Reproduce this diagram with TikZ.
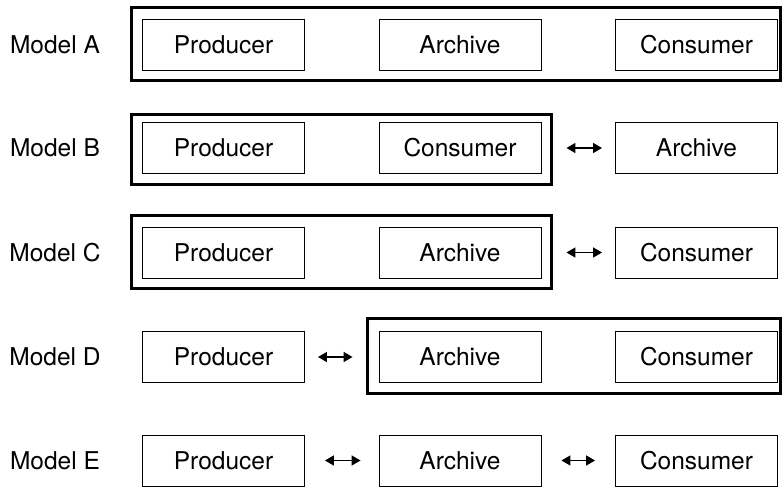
\documentclass[tikz,border=0pt]{standalone}
\usepackage{fontspec}
\setmainfont{TeX Gyre Heros}
\usetikzlibrary{arrows.meta}
\begin{document}
\begin{tikzpicture}[x=1pt,y=-1pt,
  box/.style={draw=black,line width=0.9pt,minimum width=162pt,minimum height=51pt,inner sep=0pt,
    font=\fontsize{24.5}{29}\selectfont},
  lbl/.style={font=\fontsize{24.5}{29}\selectfont,inner sep=0pt},
  outerbox/.style={draw=black,line width=2.8pt},
  link/.style={line width=1.5pt,{Triangle[length=9pt,width=10pt]}-{Triangle[length=9pt,width=10pt]}}]
\useasboundingbox (0,0) rectangle (782,488);
% Model A
\node[lbl] (mA) at (55,44.5) {Model A};
\draw[outerbox] (131.5,7.5) rectangle (780.5,80.5);
\node[box] (pA) at (223.5,44.5) {Producer};
\node[box] (aA) at (460,44.5) {Archive};
\node[box] (cA) at (696.5,44.5) {Consumer};
% Model B
\node[lbl] (mB) at (55,148) {Model B};
\draw[outerbox] (131.5,114.5) rectangle (551.5,184.5);
\node[box] (pB) at (223.5,148) {Producer};
\node[box] (cB) at (460,148) {Consumer};
\node[box] (aB) at (696.5,148) {Archive};
\draw[link,shorten <=25pt,shorten >=13pt] (cB.east) -- (aB.west);
% Model C
\node[lbl] (mC) at (55,252.5) {Model C};
\draw[outerbox] (131.5,215.5) rectangle (551.5,288.5);
\node[box] (pC) at (223.5,252.5) {Producer};
\node[box] (aC) at (460,252.5) {Archive};
\node[box] (cC) at (696.5,252.5) {Consumer};
\draw[link,shorten <=25pt,shorten >=13pt] (aC.east) -- (cC.west);
% Model D
\node[lbl] (mD) at (55,357) {Model D};
\draw[outerbox] (367.5,318.5) rectangle (780.5,393.5);
\node[box] (pD) at (223.5,357) {Producer};
\node[box] (aD) at (460,357) {Archive};
\node[box] (cD) at (696.5,357) {Consumer};
\draw[link,shorten <=13pt,shorten >=26pt] (pD.east) -- (aD.west);
% Model E
\node[lbl] (mE) at (55,460.5) {Model E};
\node[box] (pE) at (223.5,460.5) {Producer};
\node[box] (aE) at (460,460.5) {Archive};
\node[box] (cE) at (696.5,460.5) {Consumer};
\draw[link,shorten <=20pt,shorten >=18pt] (pE.east) -- (aE.west);
\draw[link,shorten <=20pt,shorten >=20pt] (aE.east) -- (cE.west);
\end{tikzpicture}
\end{document}
